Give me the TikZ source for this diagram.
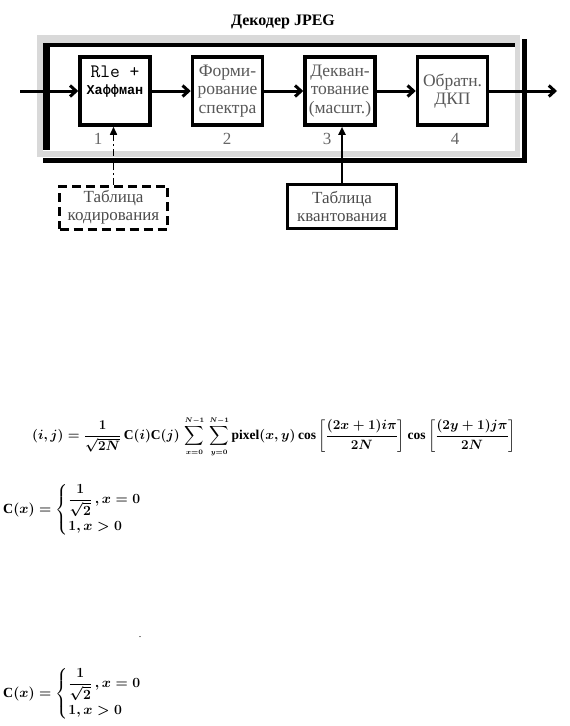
\RequirePackage{fix-cm}
\documentclass[tikz,border=0pt]{standalone}
\usepackage{amsmath,amssymb}
\usepackage{fontspec}
\setmainfont{Liberation Serif}
\newfontfamily\cyrmono{Liberation Mono}
\usepackage{tikz}
\usetikzlibrary{arrows.meta, positioning}

\begin{document}
\begin{tikzpicture}[
  x=1pt, y=-1pt,
  >={Straight Barb[length=6pt,width=11pt]},
  node distance=39pt,
  blk/.style={draw, line width=3.5pt, minimum width=70pt, minimum height=68pt, inner sep=0pt, align=center, font=\fontsize{17.5}{18.5}\selectfont, text=black!65},
  tbl/.style={draw, line width=3pt, minimum width=108pt, minimum height=43pt, inner sep=0pt, align=center, font=\fontsize{17}{18}\selectfont, text=black!70},
  num/.style={font=\fontsize{17}{18}\selectfont, text=black!60},
  flow/.style={->, line width=3pt},
  feed/.style={-{Triangle[length=8pt,width=7pt]}},
  formula/.style={anchor=west, inner sep=0pt, font=\fontsize{13.5}{16}\selectfont\boldmath},
]
  \useasboundingbox (0,0) rectangle (570,726);

  \node[font=\bfseries\fontsize{16}{18}\selectfont] (title) at (283,22) {Декодер JPEG};

  \fill[black!15] (37,35) rectangle (520,157);
  \fill[white] (43,43) rectangle (515,151);
  \draw[line width=4.5pt] (43,45) -- (515,45);
  \draw[line width=7pt] (46.5,43) -- (46.5,150);
  \draw[line width=5pt] (524.5,39) -- (524.5,163);
  \draw[line width=5pt] (43,160.5) -- (527,160.5);

  \node[blk, text=black] (b1) at (115,91) {{\fontsize{19}{21}\selectfont\ttfamily Rle +}\\[-1pt]{\fontsize{13.5}{16}\selectfont\cyrmono\bfseries Хаффман}\\[-2pt]\strut};
  \node[blk, right=of b1] (b2) {Форми-\\рование\\спектра};
  \node[blk, right=of b2] (b3) {Декван-\\тование\\(масшт.)};
  \node[blk, right=of b3] (b4) {Обратн.\\ДКП};

  \coordinate (in) at (20,91);
  \coordinate (out) at (557,91);
  \draw[flow] (in) -- (b1);
  \draw[flow] (b1) -- (b2);
  \draw[flow] (b2) -- (b3);
  \draw[flow] (b3) -- (b4);
  \draw[flow] (b4) -- (out);

  \node[num] (n1) at (98,139) {1};
  \node[num] (n2) at (227,139) {2};
  \node[num] (n3) at (327,139) {3};
  \node[num] (n4) at (455,139) {4};

  \node[tbl, dash pattern=on 9pt off 5pt] (tcode) at (113.5,207.5) {Таблица\\кодирования};
  \node[tbl, minimum width=109pt, minimum height=44pt] (tquant) at (342,206.5) {Таблица\\квантования};

  \draw[feed, line width=1.5pt, dash pattern=on 7pt off 3pt on 1.5pt off 3pt] (tcode.north) -- (tcode.north |- b1.south);
  \draw[feed, line width=2pt] (tquant.north) -- (tquant.north |- b3.south);

  \node[formula] (dct) at (32,437) {$\displaystyle (i,j)=\frac{1}{\sqrt{2N}}\,\mathrm{C}(i)\mathrm{C}(j)\,\sum_{\scriptscriptstyle x=0}^{\scriptscriptstyle N-1}\,\sum_{\scriptscriptstyle y=0}^{\scriptscriptstyle N-1}\mathrm{pixel}(x,y)\cos\left[\frac{(2x+1)i\pi}{2N}\right]\cos\left[\frac{(2y+1)j\pi}{2N}\right]$};
  \node[formula, font=\fontsize{14}{16}\selectfont\boldmath] (cx1) at (3,510) {$\mathrm{C}(x)=\begin{cases}\dfrac{1}{\sqrt{2}}\,,x=0\\ 1,x>0\end{cases}$};
  \node (dot) at (140,637) {.};
  \node[formula, font=\fontsize{14}{16}\selectfont\boldmath] (cx2) at (3,694) {$\mathrm{C}(x)=\begin{cases}\dfrac{1}{\sqrt{2}}\,,x=0\\ 1,x>0\end{cases}$};
\end{tikzpicture}
\end{document}
